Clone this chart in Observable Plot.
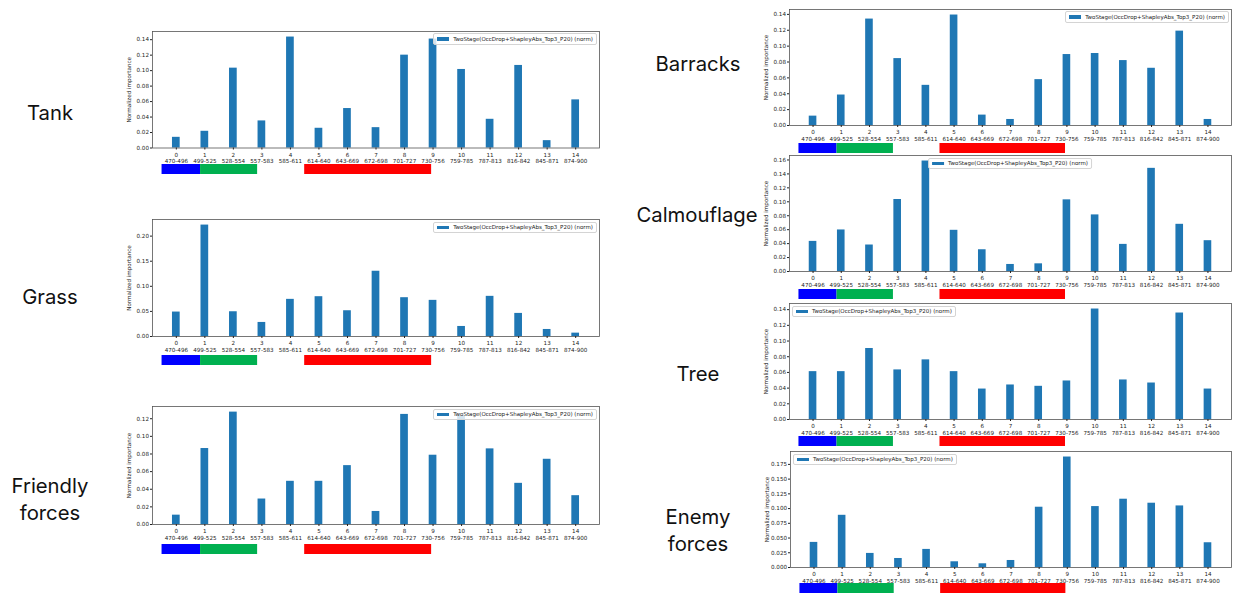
<!DOCTYPE html>
<html>
<head>
<meta charset="utf-8">
<script src="https://cdn.jsdelivr.net/npm/d3@7"></script>
<script src="https://cdn.jsdelivr.net/npm/@observablehq/plot@0.6"></script>
<style>
  body { margin: 0; background: #fff; }
  #root { position: relative; width: 1238px; height: 596px; background: #fff; overflow: hidden; }
  .plabel { position: absolute; width: 200px; text-align: center; font-family: Inter, "Open Sans", sans-serif; font-size: 20.3px; line-height: 27px; color: #111; z-index: 5; }
  .legend { position: absolute; height: 11.5px; box-sizing: border-box; border: 0.7px solid #d4d4d4; border-radius: 2px; background: rgba(255,255,255,0.8); display: flex; align-items: center; padding: 0 3px 0 3px; font-family: "DejaVu Sans", sans-serif; font-size: 5.5px; color: #222; white-space: nowrap; z-index: 4; }
  .legend .patch { display: inline-block; width: 12px; height: 3.5px; background: #1f77b4; margin-right: 4px; }
</style>
</head>
<body>
<div id="root"></div>
<script>
// ---- data ----
const bins = [0, 1, 2, 3, 4, 5, 6, 7, 8, 9, 10, 11, 12, 13, 14];
const bands = ["470-496", "499-525", "528-554", "557-583", "585-611", "614-640", "643-669", "672-698",
               "701-727", "730-756", "759-785", "787-813", "816-842", "845-871", "874-900"];
const seriesName = "TwoStage(OccDrop+ShapleyAbs_Top3_P20) (norm)";
const yTitle = "Normalized importance";

const tank        = [0.0138, 0.0216, 0.1032, 0.0350, 0.1434, 0.0255, 0.0510, 0.0263, 0.1200, 0.1408, 0.1015, 0.0371, 0.1067, 0.0095, 0.0622];
const grass       = [0.0487, 0.2220, 0.0493, 0.0280, 0.0740, 0.0793, 0.0513, 0.1300, 0.0773, 0.0720, 0.0200, 0.0800, 0.0460, 0.0140, 0.0067];
const friendly    = [0.0106, 0.0862, 0.1275, 0.0289, 0.0490, 0.0490, 0.0668, 0.0148, 0.1249, 0.0786, 0.1230, 0.0858, 0.0467, 0.0740, 0.0327];
const barracks    = [0.0118, 0.0384, 0.1341, 0.0843, 0.0506, 0.1392, 0.0131, 0.0076, 0.0578, 0.0894, 0.0907, 0.0818, 0.0721, 0.1189, 0.0076];
const calmouflage = [0.0432, 0.0596, 0.0380, 0.1033, 0.1585, 0.0591, 0.0312, 0.0101, 0.0110, 0.1028, 0.0812, 0.0389, 0.1480, 0.0677, 0.0442];
const tree        = [0.0610, 0.0610, 0.0905, 0.0632, 0.0760, 0.0610, 0.0388, 0.0440, 0.0423, 0.0491, 0.1408, 0.0504, 0.0465, 0.1357, 0.0388];
const enemy       = [0.0426, 0.0886, 0.0239, 0.0153, 0.0307, 0.0097, 0.0063, 0.0119, 0.1023, 0.1875, 0.1034, 0.1159, 0.1091, 0.1045, 0.0420];

const ticks014 = [0, 0.02, 0.04, 0.06, 0.08, 0.10, 0.12, 0.14];
const ticks012 = [0, 0.02, 0.04, 0.06, 0.08, 0.10, 0.12];
const ticks016 = [0, 0.02, 0.04, 0.06, 0.08, 0.10, 0.12, 0.14, 0.16];
const ticks020 = [0, 0.05, 0.10, 0.15, 0.20];
const ticks0175 = [0, 0.025, 0.05, 0.075, 0.1, 0.125, 0.15, 0.175];

// colour bands under each chart (in bin-index units)
const stripName  = ["blue", "green", "red"];
const stripStart = [-0.5, 0.85, 4.5];
const stripEnd   = [0.85, 2.85, 8.95];
const stripColor = ["#0000ff", "#00b050", "#ff0000"];

// ---- layout ----
const panels = [
  {lines: ["Tank"], values: tank, ticks: ticks014, fmt: ".2f", L: 152, R: 599, T: 30.5, B: 147, strip: 164, legend: "ur", lx: 50, ly: 99},
  {lines: ["Grass"], values: grass, ticks: ticks020, fmt: ".2f", L: 152, R: 599, T: 219, B: 336, strip: 355, legend: "ur", lx: 50, ly: 283},
  {lines: ["Friendly", "forces"], values: friendly, ticks: ticks012, fmt: ".2f", L: 152, R: 599, T: 406, B: 524, strip: 544, legend: "ur", lx: 50, ly: 472},
  {lines: ["Barracks"], values: barracks, ticks: ticks014, fmt: ".2f", L: 789, R: 1231, T: 8.5, B: 124.5, strip: 143, legend: "ur", lx: 698, ly: 50},
  {lines: ["Calmouflage"], values: calmouflage, ticks: ticks016, fmt: ".2f", L: 789, R: 1231, T: 155, B: 271, strip: 289, legend: "uc", lx: 697, ly: 201},
  {lines: ["Tree"], values: tree, ticks: ticks014, fmt: ".2f", L: 789, R: 1231, T: 303, B: 419, strip: 436, legend: "ul", lx: 698, ly: 360},
  {lines: ["Enemy", "forces"], values: enemy, ticks: ticks0175, fmt: ".3f", L: 790, R: 1231, T: 451, B: 567, strip: 583, legend: "ul", lx: 698, ly: 503}
];

const root = document.getElementById("root");
const xDomain = [-0.835, 14.835];
const halfBar = 0.135;
const mL = 34, mR = 4, mT = 4, mB = 22;

function place(el, left, top) {
  el.style.position = "absolute";
  el.style.left = left + "px";
  el.style.top = top + "px";
  root.appendChild(el);
}

const strips = stripName.map((n, i) => ({name: n, start: stripStart[i], end: stripEnd[i], color: stripColor[i]}));

for (const p of panels) {
  const fw = p.R - p.L, fh = p.B - p.T;
  const data = bins.map((b, i) => ({bin: b, v: p.values[i]}));
  const ymax = d3.max(p.values) * 1.05;
  const chart = Plot.plot({
    width: mL + fw + mR, height: mT + fh + mB,
    marginLeft: mL, marginRight: mR, marginTop: mT, marginBottom: mB,
    style: {background: "transparent", fontFamily: "DejaVu Sans, sans-serif", fontSize: "5.6px", color: "#222", overflow: "visible"},
    x: {type: "linear", domain: xDomain},
    y: {domain: [0, ymax]},
    marks: [
      Plot.rectY(data, {x1: d => d.bin - halfBar, x2: d => d.bin + halfBar, y: "v", fill: "#1f77b4"}),
      Plot.frame({stroke: "#555", strokeWidth: 0.8}),
      Plot.axisX(bins, {tickSize: 2, tickPadding: 2, tickFormat: i => `${i}\n${bands[i]}`, lineHeight: 1.2, label: null}),
      Plot.axisY(p.ticks, {tickSize: 2, tickPadding: 1.5, tickFormat: d3.format(p.fmt), label: null}),
      Plot.text([yTitle], {frameAnchor: "left", text: d => d, rotate: -90, dx: -23, textAnchor: "middle", lineAnchor: "middle", fill: "#222"})
    ]
  });
  place(chart, p.L - mL, p.T - mT);

  const stripChart = Plot.plot({
    width: mL + fw + mR, height: 10,
    marginLeft: mL, marginRight: mR, marginTop: 0, marginBottom: 0,
    style: {background: "transparent", overflow: "visible"},
    x: {type: "linear", domain: xDomain, axis: null},
    color: {type: "identity"},
    marks: [
      Plot.rect(strips, {x1: "start", x2: "end", fill: "color"})
    ]
  });
  place(stripChart, p.L - mL, p.strip);

  // legend
  const lg = document.createElement("div");
  lg.className = "legend";
  lg.innerHTML = `<span class="patch"></span><span>${seriesName}</span>`;
  root.appendChild(lg);
  lg.style.top = (p.T + 2.5) + "px";
  if (p.legend === "ur") {
    lg.style.right = (1238 - (p.R - 2)) + "px";
  } else if (p.legend === "ul") {
    lg.style.left = (p.L + 3) + "px";
  } else {
    lg.style.left = ((p.L + p.R) / 2) + "px";
    lg.style.transform = "translateX(-50%)";
  }

  // panel label
  const lab = document.createElement("div");
  lab.className = "plabel";
  lab.innerHTML = p.lines.join("<br>");
  lab.style.left = (p.lx - 100) + "px";
  lab.style.top = p.ly + "px";
  root.appendChild(lab);
}
</script>
</body>
</html>
